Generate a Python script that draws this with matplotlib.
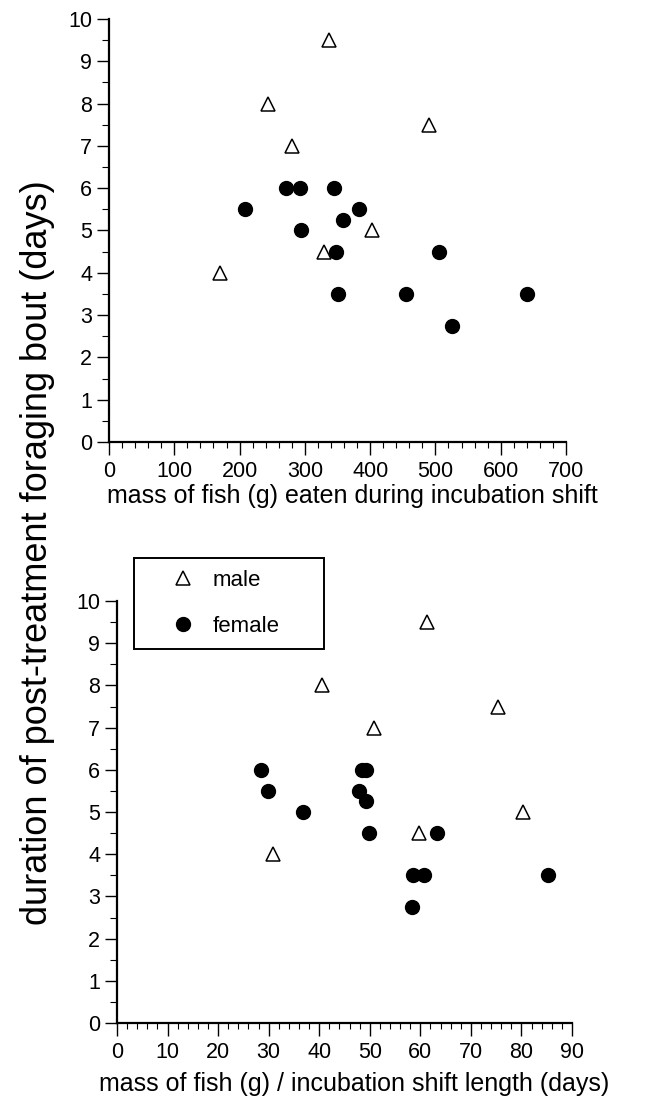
import matplotlib
matplotlib.use('Agg')
import matplotlib.pyplot as plt
from matplotlib.ticker import MultipleLocator

plt.rcParams['font.family'] = ['Liberation Sans', 'DejaVu Sans']

# Données ======================================================================
# panneau du haut : masse de poisson (g) mangée pendant le jeûne
top_male_x = [170, 244, 281, 330, 337, 403, 490]
top_male_y = [4, 8, 7, 4.5, 9.5, 5, 7.5]
top_female_x = [208, 271, 293, 294, 345, 348, 351, 358, 383, 455, 506, 525, 641]
top_female_y = [5.5, 6, 6, 5, 6, 4.5, 3.5, 5.25, 5.5, 3.5, 4.5, 2.75, 3.5]

# panneau du bas : masse de poisson / durée du jeûne
bot_male_x = [30.9, 40.6, 50.9, 59.8, 61.3, 75.3, 80.3]
bot_male_y = [4, 8, 7, 4.5, 9.5, 7.5, 5]
bot_female_x = [28.4, 29.8, 36.8, 47.9, 48.5, 49.3, 49.3, 49.8, 58.3, 58.5, 60.8, 63.2, 85.3]
bot_female_y = [6, 5.5, 5, 5.5, 6, 6, 5.25, 4.5, 2.75, 3.5, 3.5, 4.5, 3.5]

top_xticks = [0, 100, 200, 300, 400, 500, 600, 700]
bot_xticks = [0, 10, 20, 30, 40, 50, 60, 70, 80, 90]
yticks = list(range(0, 11))

W, H = 660, 1105
fig = plt.figure(figsize=(W / 100, H / 100), dpi=100)

ax1 = fig.add_axes([109 / W, 1 - 442 / H, (566 - 109) / W, (442 - 19) / H])
ax2 = fig.add_axes([117 / W, 1 - 1023 / H, (572 - 117) / W, (1023 - 601) / H])


def style(ax, xticks, xminor, xlabel, xlab_pos):
    ax.set_xlim(xticks[0], xticks[-1])
    ax.set_ylim(0, 10)
    ax.set_xticks(xticks)
    ax.set_yticks(yticks)
    ax.xaxis.set_minor_locator(MultipleLocator(xminor))
    ax.yaxis.set_minor_locator(MultipleLocator(0.5))
    for s in ['top', 'right']:
        ax.spines[s].set_visible(False)
    for s in ['left', 'bottom']:
        ax.spines[s].set_linewidth(1.6)
    ax.tick_params(axis='x', which='major', direction='out', length=9,
                   width=1, pad=4.5, labelsize=15.5)
    ax.tick_params(axis='x', which='minor', direction='out', length=4.5, width=0.8)
    ax.tick_params(axis='y', which='major', direction='out', length=9,
                   width=1, pad=3, labelsize=15.5)
    ax.tick_params(axis='y', which='minor', direction='out', length=5, width=0.8)
    ax.set_xlabel(xlabel, fontsize=18)
    ax.xaxis.set_label_coords(xlab_pos[0], xlab_pos[1])


style(ax1, top_xticks, 20, 'mass of fish (g) eaten during incubation shift',
      ((352 - 109) / 457, -0.10))
style(ax2, bot_xticks, 2, 'mass of fish (g) / incubation shift length (days)',
      ((354 - 117) / 455, -0.115))

ax1.plot(top_female_x, top_female_y, 'o', color='black', ms=10, ls='none', clip_on=False)
ax1.plot(top_male_x, top_male_y, '^', mfc='white', mec='black', mew=1.1, ms=10,
         ls='none', clip_on=False)

f_line, = ax2.plot(bot_female_x, bot_female_y, 'o', color='black', ms=10, ls='none',
                   clip_on=False)
m_line, = ax2.plot(bot_male_x, bot_male_y, '^', mfc='white', mec='black', mew=1.1,
                   ms=10, ls='none', clip_on=False)

leg = ax2.legend([m_line, f_line], ['male', 'female'], loc='upper left',
                 bbox_to_anchor=(134 / W, 1 - 654 / H, (324 - 134) / W, 96 / H),
                 bbox_transform=fig.transFigure, mode='expand', borderaxespad=0,
                 fontsize=16, frameon=True, fancybox=False, framealpha=1,
                 edgecolor='black', borderpad=0.55, labelspacing=1.1,
                 handlelength=3.3, handletextpad=-0.3, markerscale=1.0)
leg.get_frame().set_linewidth(1.4)
leg.set_zorder(5)

fig.text(38 / W, 1 - 553 / H, 'duration of post-treatment foraging bout (days)',
         rotation=90, fontsize=26, ha='center', va='center')

fig.savefig('out.png', dpi=100)
